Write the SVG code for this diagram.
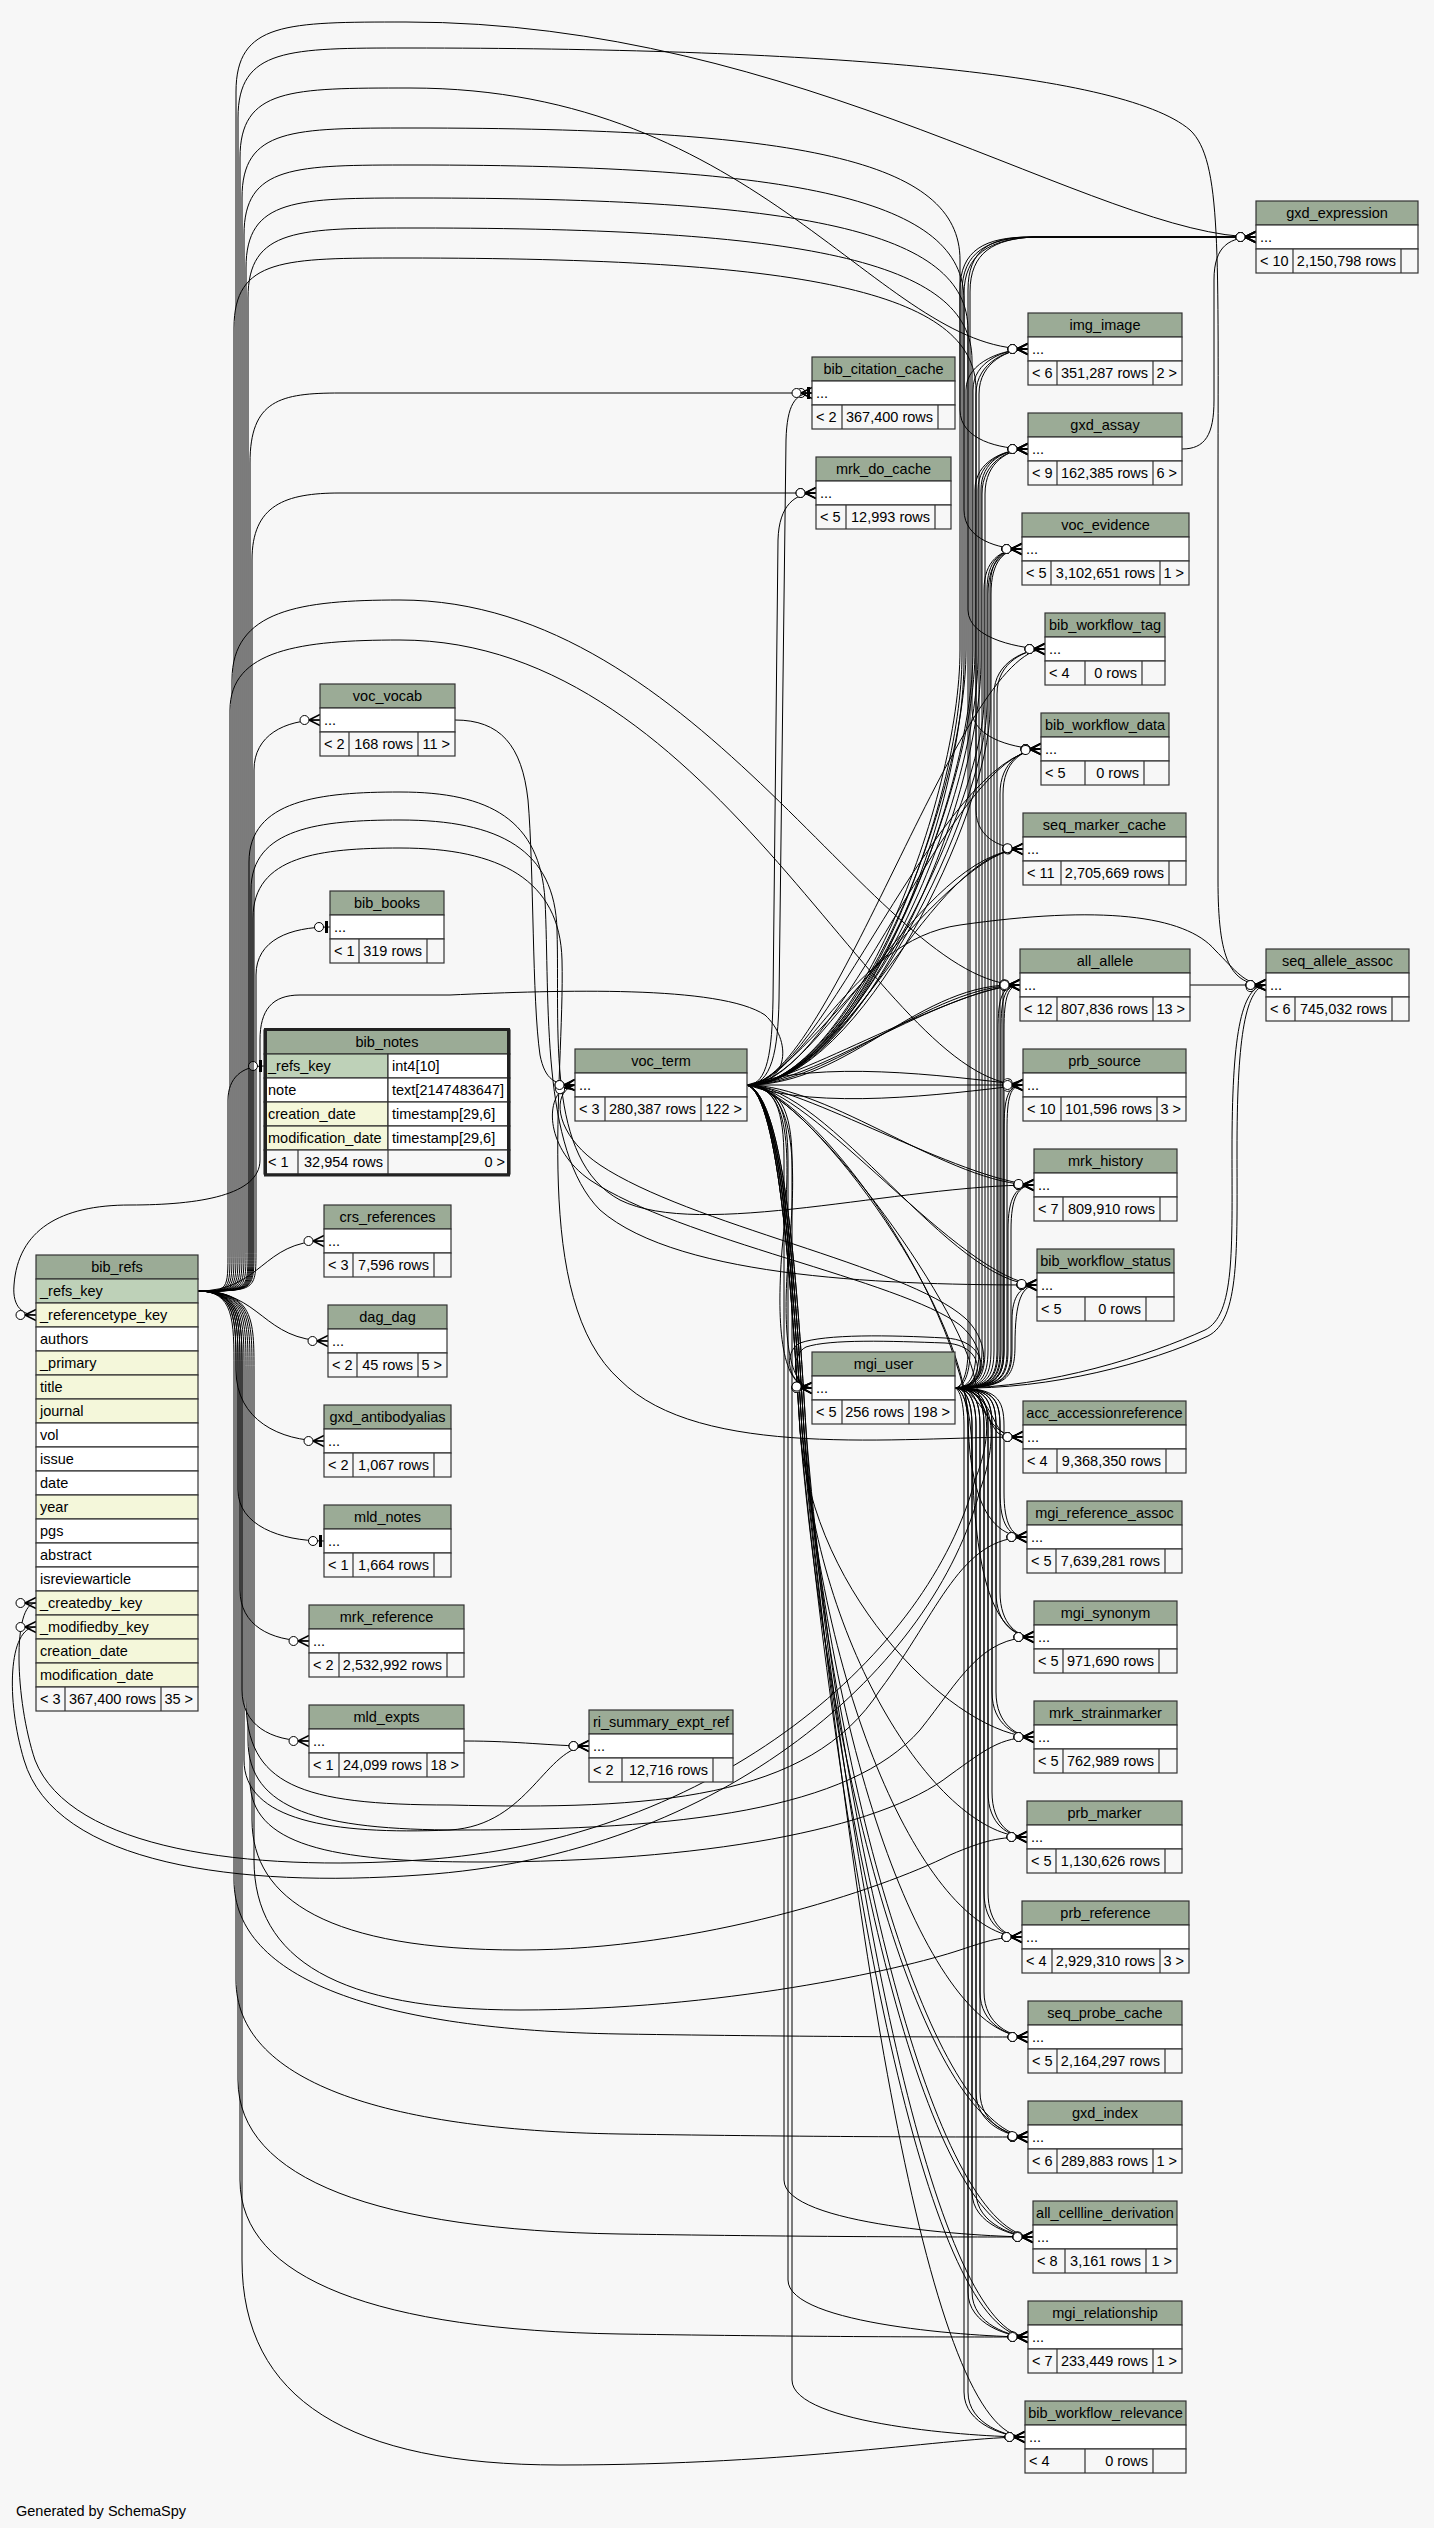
<svg xmlns="http://www.w3.org/2000/svg" width="1434" height="2528" viewBox="0 0 1434 2528">
<style>
text{font-family:"Liberation Sans",Arial,Helvetica,sans-serif;font-size:14.5px;fill:#000}
.h{fill:#9bab96;stroke:#333;stroke-width:1.2}
.r{fill:#fff;stroke:#333;stroke-width:1.2}
.f{fill:#f7f7f7;stroke:#333;stroke-width:1.2}
.pk{fill:#bed1b8;stroke:#333;stroke-width:1.2}
.ix{fill:#f4f7da;stroke:#333;stroke-width:1.2}
.d{stroke:#333;stroke-width:1.2;fill:none}
.c{text-anchor:middle}
.e{text-anchor:end}
#connectors path{fill:none;stroke:#000;stroke-width:1;marker-end:url(#cf)}
#connectors path.t{marker-end:url(#tb)}
</style>
<defs>
<marker id="cf" markerUnits="userSpaceOnUse" markerWidth="44" markerHeight="24" viewBox="-22 -12 44 24" refX="0" refY="0" orient="auto">
<path d="M-11,0L0,-5.5M-11,0L0,5.5M-11,0L0,0" fill="none" stroke="#000" stroke-width="1.4"/>
<circle cx="-15.5" cy="0" r="4.5" fill="#fff" stroke="#000" stroke-width="1"/>
</marker>
<marker id="tb" markerUnits="userSpaceOnUse" markerWidth="44" markerHeight="24" viewBox="-22 -12 44 24" refX="0" refY="0" orient="auto">
<rect x="-5" y="-6" width="3" height="12" fill="#000"/>
<circle cx="-11" cy="0" r="4.5" fill="#fff" stroke="#000" stroke-width="1"/>
</marker>
</defs>
<rect width="1434" height="2528" fill="#f7f7f7"/>
<g id="connectors">
<path d="M198,1291C236,1291 236,1291 236,1250L236,92C236,22 286,22 406,22C800,22 1100,237 1256,237"/>
<path d="M198,1291C238,1291 238,1291 238,1250L238,118C238,48 288,48 408,48C800,48 1120,70 1190,130C1222,160 1218,250 1218,500L1218,880C1218,960 1230,985 1266,985"/>
<path d="M198,1291C240,1291 240,1291 240,1250L240,158C240,88 290,88 410,88C760,88 880,349 1028,349"/>
<path d="M198,1291C242,1291 242,1291 242,1250L242,198C242,128 292,128 412,128C800,128 960,160 960,260L960,410C960,440 1000,449 1028,449"/>
<path d="M198,1291C244,1291 244,1291 244,1250L244,235C244,165 294,165 414,165C800,165 964,200 964,300L964,510C964,540 1000,549 1022,549"/>
<path d="M198,1291C246,1291 246,1291 246,1250L246,268C246,198 296,198 416,198C800,198 968,230 968,330L968,610C968,640 1025,649 1045,649"/>
<path d="M198,1291C248,1291 248,1291 248,1250L248,298C248,228 298,228 418,228C800,228 972,260 972,360L972,710C972,740 1020,749 1041,749"/>
<path d="M198,1291C234,1291 234,1291 234,1250L234,328C234,258 284,258 404,258C800,258 976,290 976,390L976,810C976,840 1005,849 1023,849"/>
<path class="t" d="M198,1291C250,1291 250,1291 250,1250L250,463C250,400 280,393 340,393L812,393"/>
<path d="M198,1291C252,1291 252,1291 252,1250L252,560C252,505 285,493 340,493L816,493"/>
<path d="M198,1291C254,1291 254,1291 254,1250L254,770C254,735 285,720 320,720"/>
<path class="t" d="M198,1291C256,1291 256,1291 256,1250L256,975C256,940 290,927 330,927"/>
<path class="t" d="M198,1291C228,1291 228,1291 228,1250L228,1100C228,1078 242,1066 264,1066"/>
<path d="M198,1291C232,1291 232,1291 232,1250L232,680C232,610 300,600 400,600C700,600 880,985 1020,985"/>
<path d="M198,1291C230,1291 230,1291 230,1250L230,710C230,650 300,640 400,640C720,640 880,1085 1023,1085"/>
<path d="M198,1291C249,1291 249,1291 249,1250L249,862C249,800 320,792 400,792C490,792 540,820 545,900C550,1000 540,1150 600,1210C680,1280 900,1285 1037,1285"/>
<path d="M198,1291C251,1291 251,1291 251,1250L251,890C251,828 320,820 400,820C500,820 555,850 557,930C560,1030 545,1160 620,1200C700,1240 900,1185 1034,1185"/>
<path d="M198,1291C253,1291 253,1291 253,1250L253,918C253,856 320,848 400,848C500,848 560,880 562,960C565,1080 530,1300 620,1380C700,1460 900,1437 1023,1437"/>
<path d="M198,1291C262,1291 262,1241 324,1241"/>
<path d="M198,1291C262,1291 262,1341 328,1341"/>
<path d="M198,1291C236,1291 236,1320 236,1370C236,1420 280,1441 324,1441"/>
<path class="t" d="M198,1291C238,1291 238,1320 238,1370L238,1490C238,1525 280,1541 324,1541"/>
<path d="M198,1291C240,1291 240,1320 240,1370L240,1590C240,1625 270,1641 309,1641"/>
<path d="M198,1291C242,1291 242,1320 242,1370L242,1690C242,1725 270,1741 309,1741"/>
<path d="M198,1291C244,1291 244,1320 244,1370L244,1760C244,1820 330,1835 450,1830C530,1825 545,1746 589,1746"/>
<path d="M198,1291C246,1291 246,1320 246,1370L246,1700C246,1785 300,1805 450,1805C650,1810 810,1800 880,1690C940,1610 960,1537 1027,1537"/>
<path d="M198,1291C248,1291 248,1320 248,1370L248,1740C248,1810 320,1830 460,1830C680,1830 850,1810 920,1730C960,1680 980,1637 1034,1637"/>
<path d="M198,1291C250,1291 250,1320 250,1370L250,1780C250,1845 330,1862 480,1862C700,1862 880,1830 950,1775C985,1750 1000,1737 1034,1737"/>
<path d="M198,1291C252,1291 252,1320 252,1370L252,1820C252,1900 330,1950 520,1950C700,1950 880,1890 950,1855C985,1840 1000,1837 1027,1837"/>
<path d="M198,1291C254,1291 254,1320 254,1370L254,1860C254,1960 340,2010 520,2010C720,2010 900,1970 960,1950C990,1940 1000,1937 1022,1937"/>
<path d="M198,1291C234,1291 234,1320 234,1370L234,1880C234,1980 380,2030 620,2034C820,2037 940,2037 1028,2037"/>
<path d="M198,1291C236,1291 236,1320 236,1370L236,1980C236,2080 380,2130 620,2134C820,2137 940,2137 1028,2137"/>
<path d="M198,1291C238,1291 238,1320 238,1370L238,2080C238,2180 380,2230 620,2234C820,2237 940,2237 1033,2237"/>
<path d="M198,1291C240,1291 240,1320 240,1370L240,2180C240,2280 380,2330 620,2334C820,2337 940,2337 1028,2337"/>
<path d="M198,1291C242,1291 242,1320 242,1370L242,2260C242,2400 350,2465 560,2465C800,2465 950,2437 1025,2437"/>
<path d="M955,1388C960,1388 968,1378 968,1350L968,290C968,250 990,237 1030,237L1256,237"/>
<path d="M955,1388C962,1388 970,1378 970,1350L970,292C970,252 994,239 1034,237L1256,237"/>
<path d="M955,1388C968,1388 976,1378 976,1350L976,394C976,361 1010,349 1028,349"/>
<path d="M955,1388C971,1388 979,1378 979,1350L979,394C979,361 1010,349 1028,349"/>
<path d="M955,1388C974,1388 982,1378 982,1350L982,494C982,461 1010,449 1028,449"/>
<path d="M955,1388C977,1388 985,1378 985,1350L985,494C985,461 1010,449 1028,449"/>
<path d="M955,1388C980,1388 988,1378 988,1350L988,594C988,561 1004,549 1022,549"/>
<path d="M955,1388C983,1388 991,1378 991,1350L991,594C991,561 1004,549 1022,549"/>
<path d="M955,1388C986,1388 994,1378 994,1350L994,694C994,661 1027,649 1045,649"/>
<path d="M955,1388C989,1388 997,1378 997,1350L997,694C997,661 1027,649 1045,649"/>
<path d="M955,1388C992,1388 1000,1378 1000,1350L1000,794C1000,761 1023,749 1041,749"/>
<path d="M955,1388C995,1388 1003,1378 1003,1350L1003,794C1003,761 1023,749 1041,749"/>
<path d="M955,1388C990,1388 998,1378 998,1350L998,1030C998,997 1002,985 1020,985"/>
<path d="M955,1388C993,1388 1001,1378 1001,1350L1001,1030C1001,997 1005,985 1020,985"/>
<path d="M955,1388C996,1388 1004,1378 1004,1350L1004,1030C1004,997 1008,985 1020,985"/>
<path d="M955,1388C996,1388 1004,1378 1004,1350L1004,1130C1004,1097 1008,1085 1023,1085"/>
<path d="M955,1388C999,1388 1007,1378 1007,1350L1007,1130C1007,1097 1010,1085 1023,1085"/>
<path d="M955,1388C1000,1388 1008,1378 1008,1350L1008,1230C1008,1197 1016,1185 1034,1185"/>
<path d="M955,1388C1003,1388 1011,1378 1011,1350L1011,1230C1011,1197 1018,1185 1034,1185"/>
<path d="M955,1388C1004,1388 1012,1378 1012,1350L1012,1320C1012,1297 1020,1285 1037,1285"/>
<path d="M955,1388C1007,1388 1015,1378 1015,1345C1015,1300 1022,1285 1037,1285"/>
<path d="M955,1388C985,1388 992,1420 1000,1430C1006,1436 1012,1437 1023,1437"/>
<path d="M955,1388C978,1390 990,1425 998,1433C1004,1437 1012,1437 1023,1437"/>
<path d="M955,1388C992,1388 1000,1398 1000,1426L1000,1492C1000,1525 1009,1537 1027,1537"/>
<path d="M955,1388C996,1388 1004,1398 1004,1426L1004,1492C1004,1525 1012,1537 1027,1537"/>
<path d="M955,1388C988,1388 996,1398 996,1426L996,1592C996,1625 1016,1637 1034,1637"/>
<path d="M955,1388C992,1388 1000,1398 1000,1426L1000,1592C1000,1625 1018,1637 1034,1637"/>
<path d="M955,1388C984,1388 992,1398 992,1426L992,1692C992,1725 1016,1737 1034,1737"/>
<path d="M955,1388C988,1388 996,1398 996,1426L996,1692C996,1725 1018,1737 1034,1737"/>
<path d="M955,1388C980,1388 988,1398 988,1426L988,1792C988,1825 1009,1837 1027,1837"/>
<path d="M955,1388C984,1388 992,1398 992,1426L992,1792C992,1825 1011,1837 1027,1837"/>
<path d="M955,1388C976,1388 984,1398 984,1426L984,1892C984,1925 1004,1937 1022,1937"/>
<path d="M955,1388C980,1388 988,1398 988,1426L988,1892C988,1925 1006,1937 1022,1937"/>
<path d="M955,1388C972,1388 980,1398 980,1426L980,1992C980,2025 1010,2037 1028,2037"/>
<path d="M955,1388C976,1388 984,1398 984,1426L984,1992C984,2025 1012,2037 1028,2037"/>
<path d="M955,1388C968,1388 976,1398 976,1426L976,2092C976,2125 1010,2137 1028,2137"/>
<path d="M955,1388C972,1388 980,1398 980,1426L980,2092C980,2125 1012,2137 1028,2137"/>
<path d="M955,1388C964,1388 972,1398 972,1426L972,2192C972,2225 1015,2237 1033,2237"/>
<path d="M955,1388C968,1388 976,1398 976,1426L976,2192C976,2225 1017,2237 1033,2237"/>
<path d="M955,1388C960,1388 968,1398 968,1426L968,2292C968,2325 1010,2337 1028,2337"/>
<path d="M955,1388C964,1388 972,1398 972,1426L972,2292C972,2325 1012,2337 1028,2337"/>
<path d="M955,1388C958,1388 964,1398 964,1426L964,2392C964,2425 1007,2437 1025,2437"/>
<path d="M955,1388C960,1388 968,1398 968,1426L968,2392C968,2425 1009,2437 1025,2437"/>
<path d="M955,1388C985,1388 988,1345 945,1343C890,1341 830,1339 806,1347C790,1355 792,1388 812,1388"/>
<path d="M955,1388C990,1390 993,1340 945,1338C890,1335 825,1334 800,1343C782,1352 788,1386 812,1388"/>
<path d="M955,1388C985,1388 990,1350 960,1325C900,1280 680,1240 590,1180C540,1145 545,1085 575,1085"/>
<path d="M955,1388C988,1388 994,1345 965,1318C905,1265 690,1225 600,1165C555,1135 550,1092 575,1085"/>
<path d="M955,1388C1050,1388 1150,1355 1205,1330C1235,1315 1232,1250 1232,1150C1232,1040 1240,985 1266,985"/>
<path d="M955,1388C1052,1390 1152,1362 1208,1336C1240,1320 1237,1250 1237,1150C1237,1045 1244,988 1266,985"/>
<path d="M955,1388C990,1388 995,1430 975,1480C930,1650 720,1840 420,1860C250,1872 70,1850 35,1760C15,1700 12,1603 36,1603"/>
<path d="M955,1388C994,1388 1000,1435 980,1490C935,1665 725,1855 420,1875C240,1888 55,1865 24,1760C6,1700 8,1627 36,1627"/>
<path d="M747,1085C850,1085 960,800 960,650L960,290C960,250 985,237 1030,237L1256,237"/>
<path d="M747,1085C855,1085 962,805 962,655L962,292C962,252 988,238 1032,237L1256,237"/>
<path d="M747,1085C860,1085 964,810 964,660L964,294C964,254 990,239 1034,237L1256,237"/>
<path d="M747,1085C850,1085 966,800 966,650L966,390C966,361 1005,349 1028,349"/>
<path d="M747,1085C855,1085 973,800 973,650L973,390C973,361 1005,349 1028,349"/>
<path d="M747,1085C850,1085 975,800 975,650L975,490C975,461 1005,449 1028,449"/>
<path d="M747,1085C855,1085 978,805 978,655L978,490C978,461 1005,449 1028,449"/>
<path d="M747,1085C860,1085 981,810 981,660L981,490C981,461 1005,449 1028,449"/>
<path d="M747,1085C850,1085 984,800 984,700L984,590C984,561 1000,549 1022,549"/>
<path d="M747,1085C855,1085 987,805 987,705L987,590C987,561 1000,549 1022,549"/>
<path d="M747,1085C860,1085 990,810 990,710L990,590C990,561 1000,549 1022,549"/>
<path d="M747,1085C830,1085 960,649 1045,649"/>
<path d="M747,1085C840,1085 950,749 1041,749"/>
<path d="M747,1085C820,1085 940,755 1041,749"/>
<path d="M747,1085C850,1085 930,849 1023,849"/>
<path d="M747,1085C820,1085 920,852 1023,849"/>
<path d="M747,1085C800,1085 950,845 1023,849"/>
<path d="M747,1085C830,1085 930,985 1020,985"/>
<path d="M747,1085C810,1085 940,990 1020,985"/>
<path d="M747,1085C850,1085 920,980 1020,985"/>
<path d="M747,1085C790,1085 960,985 1020,985"/>
<path d="M747,1085C820,1060 940,1075 1023,1085"/>
<path d="M747,1085C820,1110 940,1095 1023,1085"/>
<path d="M747,1085L1023,1085"/>
<path d="M747,1085C830,1085 950,1185 1034,1185"/>
<path d="M747,1085C800,1085 960,1180 1034,1185"/>
<path d="M747,1085C830,1085 950,1285 1037,1285"/>
<path d="M747,1085C810,1085 960,1280 1037,1285"/>
<path d="M747,1085C800,1085 960,1300 975,1380C985,1425 1000,1437 1023,1437"/>
<path d="M747,1085C800,1085 965,1300 968,1420C970,1500 990,1537 1027,1537"/>
<path d="M747,1085C805,1085 970,1300 972,1450C974,1580 995,1637 1034,1637"/>
<path d="M747,1085C780,1095 792,1300 800,1430C812,1600 960,1737 1034,1737"/>
<path d="M747,1085C782,1095 794,1300 802,1430C816,1650 940,1837 1027,1837"/>
<path d="M747,1085C784,1095 796,1300 804,1430C820,1700 930,1937 1022,1937"/>
<path d="M747,1085C786,1095 798,1300 806,1430C825,1750 930,2037 1028,2037"/>
<path d="M747,1085C780,1095 792,1300 800,1430C830,1800 930,2137 1028,2137"/>
<path d="M747,1085C784,1095 796,1300 804,1430C835,1820 940,2132 1028,2137"/>
<path d="M747,1085C782,1095 794,1300 802,1430C838,1850 930,2237 1033,2237"/>
<path d="M747,1085C786,1095 798,1300 806,1430C842,1870 940,2232 1033,2237"/>
<path d="M747,1085C780,1095 792,1300 800,1430C845,1900 930,2337 1028,2337"/>
<path d="M747,1085C784,1095 796,1300 804,1430C850,1920 940,2332 1028,2337"/>
<path d="M747,1085C782,1095 794,1300 802,1430C855,1950 930,2437 1025,2437"/>
<path d="M747,1085C775,1085 784,1110 784,1160L784,2180C784,2225 980,2237 1033,2237"/>
<path d="M747,1085C777,1085 788,1110 788,1160L788,2280C788,2325 980,2337 1028,2337"/>
<path d="M747,1085C779,1085 792,1110 792,1160L792,2380C792,2425 980,2437 1025,2437"/>
<path d="M747,1085C800,1085 850,940 960,925C1100,905 1185,915 1215,950C1235,970 1245,985 1266,985"/>
<path d="M747,1085C790,1085 792,1150 782,1250C776,1330 782,1388 812,1388"/>
<path d="M747,1085C795,1085 798,1160 788,1260C782,1340 790,1386 812,1388"/>
<path d="M747,1085C772,1085 778,1050 779,1000L786,440C787,405 795,393 812,393"/>
<path d="M747,1085C768,1085 772,1050 773,1000L778,540C779,505 795,493 816,493"/>
<path d="M747,1085C790,1085 792,1040 765,1015C720,985 560,990 450,995L300,995C272,995 260,1010 260,1040L260,1160C260,1195 200,1205 130,1205C60,1205 18,1230 14,1285C12,1308 24,1315 36,1315"/>
<path d="M455,720C500,720 522,745 528,800C534,870 532,1000 540,1055C545,1080 555,1085 575,1085"/>
<path d="M1190,985L1266,985"/>
<path d="M1182,449C1205,449 1214,435 1214,400L1214,280C1214,245 1230,237 1256,237"/>
<path d="M464,1741C520,1741 550,1746 589,1746"/>
</g>
<g id="tables">
<g id="gxd_expression" transform="translate(1256,201)"><rect class="h" width="162" height="24"/><rect class="r" y="24" width="162" height="24"/><rect class="f" y="48" width="162" height="24"/><path class="d" d="M37,48v24M145,48v24"/><text class="c" x="81" y="17">gxd_expression</text><text x="4" y="41">...</text><text x="4" y="65">&lt; 10</text><text class="e" x="140" y="65">2,150,798 rows</text></g>
<g id="img_image" transform="translate(1028,313)"><rect class="h" width="154" height="24"/><rect class="r" y="24" width="154" height="24"/><rect class="f" y="48" width="154" height="24"/><path class="d" d="M29,48v24M125,48v24"/><text class="c" x="77" y="17">img_image</text><text x="4" y="41">...</text><text x="4" y="65">&lt; 6</text><text class="e" x="120" y="65">351,287 rows</text><text class="e" x="149" y="65">2 &gt;</text></g>
<g id="gxd_assay" transform="translate(1028,413)"><rect class="h" width="154" height="24"/><rect class="r" y="24" width="154" height="24"/><rect class="f" y="48" width="154" height="24"/><path class="d" d="M29,48v24M125,48v24"/><text class="c" x="77" y="17">gxd_assay</text><text x="4" y="41">...</text><text x="4" y="65">&lt; 9</text><text class="e" x="120" y="65">162,385 rows</text><text class="e" x="149" y="65">6 &gt;</text></g>
<g id="voc_evidence" transform="translate(1022,513)"><rect class="h" width="167" height="24"/><rect class="r" y="24" width="167" height="24"/><rect class="f" y="48" width="167" height="24"/><path class="d" d="M29,48v24M138,48v24"/><text class="c" x="83.5" y="17">voc_evidence</text><text x="4" y="41">...</text><text x="4" y="65">&lt; 5</text><text class="e" x="133" y="65">3,102,651 rows</text><text class="e" x="162" y="65">1 &gt;</text></g>
<g id="bib_workflow_tag" transform="translate(1045,613)"><rect class="h" width="120" height="24"/><rect class="r" y="24" width="120" height="24"/><rect class="f" y="48" width="120" height="24"/><path class="d" d="M40,48v24M97,48v24"/><text class="c" x="60" y="17">bib_workflow_tag</text><text x="4" y="41">...</text><text x="4" y="65">&lt; 4</text><text class="e" x="92" y="65">0 rows</text></g>
<g id="bib_workflow_data" transform="translate(1041,713)"><rect class="h" width="128" height="24"/><rect class="r" y="24" width="128" height="24"/><rect class="f" y="48" width="128" height="24"/><path class="d" d="M44,48v24M103,48v24"/><text class="c" x="64" y="17">bib_workflow_data</text><text x="4" y="41">...</text><text x="4" y="65">&lt; 5</text><text class="e" x="98" y="65">0 rows</text></g>
<g id="seq_marker_cache" transform="translate(1023,813)"><rect class="h" width="163" height="24"/><rect class="r" y="24" width="163" height="24"/><rect class="f" y="48" width="163" height="24"/><path class="d" d="M38,48v24M146,48v24"/><text class="c" x="81.5" y="17">seq_marker_cache</text><text x="4" y="41">...</text><text x="4" y="65">&lt; 11</text><text class="e" x="141" y="65">2,705,669 rows</text></g>
<g id="all_allele" transform="translate(1020,949)"><rect class="h" width="170" height="24"/><rect class="r" y="24" width="170" height="24"/><rect class="f" y="48" width="170" height="24"/><path class="d" d="M37,48v24M133,48v24"/><text class="c" x="85" y="17">all_allele</text><text x="4" y="41">...</text><text x="4" y="65">&lt; 12</text><text class="e" x="128" y="65">807,836 rows</text><text class="e" x="165" y="65">13 &gt;</text></g>
<g id="seq_allele_assoc" transform="translate(1266,949)"><rect class="h" width="143" height="24"/><rect class="r" y="24" width="143" height="24"/><rect class="f" y="48" width="143" height="24"/><path class="d" d="M29,48v24M126,48v24"/><text class="c" x="71.5" y="17">seq_allele_assoc</text><text x="4" y="41">...</text><text x="4" y="65">&lt; 6</text><text class="e" x="121" y="65">745,032 rows</text></g>
<g id="prb_source" transform="translate(1023,1049)"><rect class="h" width="163" height="24"/><rect class="r" y="24" width="163" height="24"/><rect class="f" y="48" width="163" height="24"/><path class="d" d="M38,48v24M134,48v24"/><text class="c" x="81.5" y="17">prb_source</text><text x="4" y="41">...</text><text x="4" y="65">&lt; 10</text><text class="e" x="129" y="65">101,596 rows</text><text class="e" x="158" y="65">3 &gt;</text></g>
<g id="mrk_history" transform="translate(1034,1149)"><rect class="h" width="143" height="24"/><rect class="r" y="24" width="143" height="24"/><rect class="f" y="48" width="143" height="24"/><path class="d" d="M29,48v24M126,48v24"/><text class="c" x="71.5" y="17">mrk_history</text><text x="4" y="41">...</text><text x="4" y="65">&lt; 7</text><text class="e" x="121" y="65">809,910 rows</text></g>
<g id="bib_workflow_status" transform="translate(1037,1249)"><rect class="h" width="137" height="24"/><rect class="r" y="24" width="137" height="24"/><rect class="f" y="48" width="137" height="24"/><path class="d" d="M48,48v24M109,48v24"/><text class="c" x="68.5" y="17">bib_workflow_status</text><text x="4" y="41">...</text><text x="4" y="65">&lt; 5</text><text class="e" x="104" y="65">0 rows</text></g>
<g id="acc_accessionreference" transform="translate(1023,1401)"><rect class="h" width="163" height="24"/><rect class="r" y="24" width="163" height="24"/><rect class="f" y="48" width="163" height="24"/><path class="d" d="M34,48v24M143,48v24"/><text class="c" x="81.5" y="17">acc_accessionreference</text><text x="4" y="41">...</text><text x="4" y="65">&lt; 4</text><text class="e" x="138" y="65">9,368,350 rows</text></g>
<g id="mgi_reference_assoc" transform="translate(1027,1501)"><rect class="h" width="155" height="24"/><rect class="r" y="24" width="155" height="24"/><rect class="f" y="48" width="155" height="24"/><path class="d" d="M29,48v24M138,48v24"/><text class="c" x="77.5" y="17">mgi_reference_assoc</text><text x="4" y="41">...</text><text x="4" y="65">&lt; 5</text><text class="e" x="133" y="65">7,639,281 rows</text></g>
<g id="mgi_synonym" transform="translate(1034,1601)"><rect class="h" width="143" height="24"/><rect class="r" y="24" width="143" height="24"/><rect class="f" y="48" width="143" height="24"/><path class="d" d="M29,48v24M125,48v24"/><text class="c" x="71.5" y="17">mgi_synonym</text><text x="4" y="41">...</text><text x="4" y="65">&lt; 5</text><text class="e" x="120" y="65">971,690 rows</text></g>
<g id="mrk_strainmarker" transform="translate(1034,1701)"><rect class="h" width="143" height="24"/><rect class="r" y="24" width="143" height="24"/><rect class="f" y="48" width="143" height="24"/><path class="d" d="M29,48v24M125,48v24"/><text class="c" x="71.5" y="17">mrk_strainmarker</text><text x="4" y="41">...</text><text x="4" y="65">&lt; 5</text><text class="e" x="120" y="65">762,989 rows</text></g>
<g id="prb_marker" transform="translate(1027,1801)"><rect class="h" width="155" height="24"/><rect class="r" y="24" width="155" height="24"/><rect class="f" y="48" width="155" height="24"/><path class="d" d="M29,48v24M138,48v24"/><text class="c" x="77.5" y="17">prb_marker</text><text x="4" y="41">...</text><text x="4" y="65">&lt; 5</text><text class="e" x="133" y="65">1,130,626 rows</text></g>
<g id="prb_reference" transform="translate(1022,1901)"><rect class="h" width="167" height="24"/><rect class="r" y="24" width="167" height="24"/><rect class="f" y="48" width="167" height="24"/><path class="d" d="M30,48v24M138,48v24"/><text class="c" x="83.5" y="17">prb_reference</text><text x="4" y="41">...</text><text x="4" y="65">&lt; 4</text><text class="e" x="133" y="65">2,929,310 rows</text><text class="e" x="162" y="65">3 &gt;</text></g>
<g id="seq_probe_cache" transform="translate(1028,2001)"><rect class="h" width="154" height="24"/><rect class="r" y="24" width="154" height="24"/><rect class="f" y="48" width="154" height="24"/><path class="d" d="M29,48v24M137,48v24"/><text class="c" x="77" y="17">seq_probe_cache</text><text x="4" y="41">...</text><text x="4" y="65">&lt; 5</text><text class="e" x="132" y="65">2,164,297 rows</text></g>
<g id="gxd_index" transform="translate(1028,2101)"><rect class="h" width="154" height="24"/><rect class="r" y="24" width="154" height="24"/><rect class="f" y="48" width="154" height="24"/><path class="d" d="M29,48v24M125,48v24"/><text class="c" x="77" y="17">gxd_index</text><text x="4" y="41">...</text><text x="4" y="65">&lt; 6</text><text class="e" x="120" y="65">289,883 rows</text><text class="e" x="149" y="65">1 &gt;</text></g>
<g id="all_cellline_derivation" transform="translate(1033,2201)"><rect class="h" width="144" height="24"/><rect class="r" y="24" width="144" height="24"/><rect class="f" y="48" width="144" height="24"/><path class="d" d="M32,48v24M113,48v24"/><text class="c" x="72" y="17">all_cellline_derivation</text><text x="4" y="41">...</text><text x="4" y="65">&lt; 8</text><text class="e" x="108" y="65">3,161 rows</text><text class="e" x="139" y="65">1 &gt;</text></g>
<g id="mgi_relationship" transform="translate(1028,2301)"><rect class="h" width="154" height="24"/><rect class="r" y="24" width="154" height="24"/><rect class="f" y="48" width="154" height="24"/><path class="d" d="M29,48v24M125,48v24"/><text class="c" x="77" y="17">mgi_relationship</text><text x="4" y="41">...</text><text x="4" y="65">&lt; 7</text><text class="e" x="120" y="65">233,449 rows</text><text class="e" x="149" y="65">1 &gt;</text></g>
<g id="bib_workflow_relevance" transform="translate(1025,2401)"><rect class="h" width="161" height="24"/><rect class="r" y="24" width="161" height="24"/><rect class="f" y="48" width="161" height="24"/><path class="d" d="M60,48v24M128,48v24"/><text class="c" x="80.5" y="17">bib_workflow_relevance</text><text x="4" y="41">...</text><text x="4" y="65">&lt; 4</text><text class="e" x="123" y="65">0 rows</text></g>
<g id="bib_citation_cache" transform="translate(812,357)"><rect class="h" width="143" height="24"/><rect class="r" y="24" width="143" height="24"/><rect class="f" y="48" width="143" height="24"/><path class="d" d="M30,48v24M126,48v24"/><text class="c" x="71.5" y="17">bib_citation_cache</text><text x="4" y="41">...</text><text x="4" y="65">&lt; 2</text><text class="e" x="121" y="65">367,400 rows</text></g>
<g id="mrk_do_cache" transform="translate(816,457)"><rect class="h" width="135" height="24"/><rect class="r" y="24" width="135" height="24"/><rect class="f" y="48" width="135" height="24"/><path class="d" d="M30,48v24M119,48v24"/><text class="c" x="67.5" y="17">mrk_do_cache</text><text x="4" y="41">...</text><text x="4" y="65">&lt; 5</text><text class="e" x="114" y="65">12,993 rows</text></g>
<g id="voc_vocab" transform="translate(320,684)"><rect class="h" width="135" height="24"/><rect class="r" y="24" width="135" height="24"/><rect class="f" y="48" width="135" height="24"/><path class="d" d="M29,48v24M98,48v24"/><text class="c" x="67.5" y="17">voc_vocab</text><text x="4" y="41">...</text><text x="4" y="65">&lt; 2</text><text class="e" x="93" y="65">168 rows</text><text class="e" x="130" y="65">11 &gt;</text></g>
<g id="bib_books" transform="translate(330,891)"><rect class="h" width="114" height="24"/><rect class="r" y="24" width="114" height="24"/><rect class="f" y="48" width="114" height="24"/><path class="d" d="M29,48v24M97,48v24"/><text class="c" x="57" y="17">bib_books</text><text x="4" y="41">...</text><text x="4" y="65">&lt; 1</text><text class="e" x="92" y="65">319 rows</text></g>
<g id="voc_term" transform="translate(575,1049)"><rect class="h" width="172" height="24"/><rect class="r" y="24" width="172" height="24"/><rect class="f" y="48" width="172" height="24"/><path class="d" d="M30,48v24M126,48v24"/><text class="c" x="86" y="17">voc_term</text><text x="4" y="41">...</text><text x="4" y="65">&lt; 3</text><text class="e" x="121" y="65">280,387 rows</text><text class="e" x="167" y="65">122 &gt;</text></g>
<g id="mgi_user" transform="translate(812,1352)"><rect class="h" width="143" height="24"/><rect class="r" y="24" width="143" height="24"/><rect class="f" y="48" width="143" height="24"/><path class="d" d="M30,48v24M97,48v24"/><text class="c" x="71.5" y="17">mgi_user</text><text x="4" y="41">...</text><text x="4" y="65">&lt; 5</text><text class="e" x="92" y="65">256 rows</text><text class="e" x="138" y="65">198 &gt;</text></g>
<g id="crs_references" transform="translate(324,1205)"><rect class="h" width="127" height="24"/><rect class="r" y="24" width="127" height="24"/><rect class="f" y="48" width="127" height="24"/><path class="d" d="M29,48v24M110,48v24"/><text class="c" x="63.5" y="17">crs_references</text><text x="4" y="41">...</text><text x="4" y="65">&lt; 3</text><text class="e" x="105" y="65">7,596 rows</text></g>
<g id="dag_dag" transform="translate(328,1305)"><rect class="h" width="119" height="24"/><rect class="r" y="24" width="119" height="24"/><rect class="f" y="48" width="119" height="24"/><path class="d" d="M29,48v24M90,48v24"/><text class="c" x="59.5" y="17">dag_dag</text><text x="4" y="41">...</text><text x="4" y="65">&lt; 2</text><text class="e" x="85" y="65">45 rows</text><text class="e" x="114" y="65">5 &gt;</text></g>
<g id="gxd_antibodyalias" transform="translate(324,1405)"><rect class="h" width="127" height="24"/><rect class="r" y="24" width="127" height="24"/><rect class="f" y="48" width="127" height="24"/><path class="d" d="M29,48v24M110,48v24"/><text class="c" x="63.5" y="17">gxd_antibodyalias</text><text x="4" y="41">...</text><text x="4" y="65">&lt; 2</text><text class="e" x="105" y="65">1,067 rows</text></g>
<g id="mld_notes" transform="translate(324,1505)"><rect class="h" width="127" height="24"/><rect class="r" y="24" width="127" height="24"/><rect class="f" y="48" width="127" height="24"/><path class="d" d="M29,48v24M110,48v24"/><text class="c" x="63.5" y="17">mld_notes</text><text x="4" y="41">...</text><text x="4" y="65">&lt; 1</text><text class="e" x="105" y="65">1,664 rows</text></g>
<g id="mrk_reference" transform="translate(309,1605)"><rect class="h" width="155" height="24"/><rect class="r" y="24" width="155" height="24"/><rect class="f" y="48" width="155" height="24"/><path class="d" d="M30,48v24M138,48v24"/><text class="c" x="77.5" y="17">mrk_reference</text><text x="4" y="41">...</text><text x="4" y="65">&lt; 2</text><text class="e" x="133" y="65">2,532,992 rows</text></g>
<g id="mld_expts" transform="translate(309,1705)"><rect class="h" width="155" height="24"/><rect class="r" y="24" width="155" height="24"/><rect class="f" y="48" width="155" height="24"/><path class="d" d="M30,48v24M118,48v24"/><text class="c" x="77.5" y="17">mld_expts</text><text x="4" y="41">...</text><text x="4" y="65">&lt; 1</text><text class="e" x="113" y="65">24,099 rows</text><text class="e" x="150" y="65">18 &gt;</text></g>
<g id="ri_summary_expt_ref" transform="translate(589,1710)"><rect class="h" width="144" height="24"/><rect class="r" y="24" width="144" height="24"/><rect class="f" y="48" width="144" height="24"/><path class="d" d="M33,48v24M124,48v24"/><text class="c" x="72" y="17">ri_summary_expt_ref</text><text x="4" y="41">...</text><text x="4" y="65">&lt; 2</text><text class="e" x="119" y="65">12,716 rows</text></g>
<g id="bib_notes" transform="translate(264,1030)">
<rect class="h" width="246" height="24"/>
<rect class="pk" y="24" width="124" height="24"/><rect class="r" x="124" y="24" width="122" height="24"/>
<rect class="r" y="48" width="124" height="24"/><rect class="r" x="124" y="48" width="122" height="24"/>
<rect class="ix" y="72" width="124" height="24"/><rect class="r" x="124" y="72" width="122" height="24"/>
<rect class="ix" y="96" width="124" height="24"/><rect class="r" x="124" y="96" width="122" height="24"/>
<rect class="f" y="120" width="246" height="24"/><path class="d" d="M34,120v24M124,120v24"/>
<text class="c" x="123" y="17">bib_notes</text>
<text x="4" y="41">_refs_key</text><text x="128" y="41">int4[10]</text>
<text x="4" y="65">note</text><text x="128" y="65">text[2147483647]</text>
<text x="4" y="89">creation_date</text><text x="128" y="89">timestamp[29,6]</text>
<text x="4" y="113">modification_date</text><text x="128" y="113">timestamp[29,6]</text>
<text x="4" y="137">&lt; 1</text><text class="e" x="119" y="137">32,954 rows</text><text class="e" x="241" y="137">0 &gt;</text>
<rect x="1.5" y="-0.5" width="243" height="145.5" fill="none" stroke="#222" stroke-width="3"/>
</g>
<g id="bib_refs" transform="translate(36,1255)">
<rect class="h" width="162" height="24"/>
<rect class="pk" y="24" width="162" height="24"/>
<rect class="ix" y="48" width="162" height="24"/>
<rect class="r" y="72" width="162" height="24"/>
<rect class="ix" y="96" width="162" height="24"/>
<rect class="ix" y="120" width="162" height="24"/>
<rect class="ix" y="144" width="162" height="24"/>
<rect class="r" y="168" width="162" height="24"/>
<rect class="r" y="192" width="162" height="24"/>
<rect class="r" y="216" width="162" height="24"/>
<rect class="ix" y="240" width="162" height="24"/>
<rect class="r" y="264" width="162" height="24"/>
<rect class="r" y="288" width="162" height="24"/>
<rect class="r" y="312" width="162" height="24"/>
<rect class="ix" y="336" width="162" height="24"/>
<rect class="ix" y="360" width="162" height="24"/>
<rect class="ix" y="384" width="162" height="24"/>
<rect class="ix" y="408" width="162" height="24"/>
<rect class="f" y="432" width="162" height="24"/><path class="d" d="M29,432v24M125,432v24"/>
<text class="c" x="81" y="17">bib_refs</text>
<text x="4" y="41">_refs_key</text>
<text x="4" y="65">_referencetype_key</text>
<text x="4" y="89">authors</text>
<text x="4" y="113">_primary</text>
<text x="4" y="137">title</text>
<text x="4" y="161">journal</text>
<text x="4" y="185">vol</text>
<text x="4" y="209">issue</text>
<text x="4" y="233">date</text>
<text x="4" y="257">year</text>
<text x="4" y="281">pgs</text>
<text x="4" y="305">abstract</text>
<text x="4" y="329">isreviewarticle</text>
<text x="4" y="353">_createdby_key</text>
<text x="4" y="377">_modifiedby_key</text>
<text x="4" y="401">creation_date</text>
<text x="4" y="425">modification_date</text>
<text x="4" y="449">&lt; 3</text><text class="e" x="120" y="449">367,400 rows</text><text class="e" x="157" y="449">35 &gt;</text>
</g>
</g>
<text x="16" y="2516">Generated by SchemaSpy</text>
</svg>
